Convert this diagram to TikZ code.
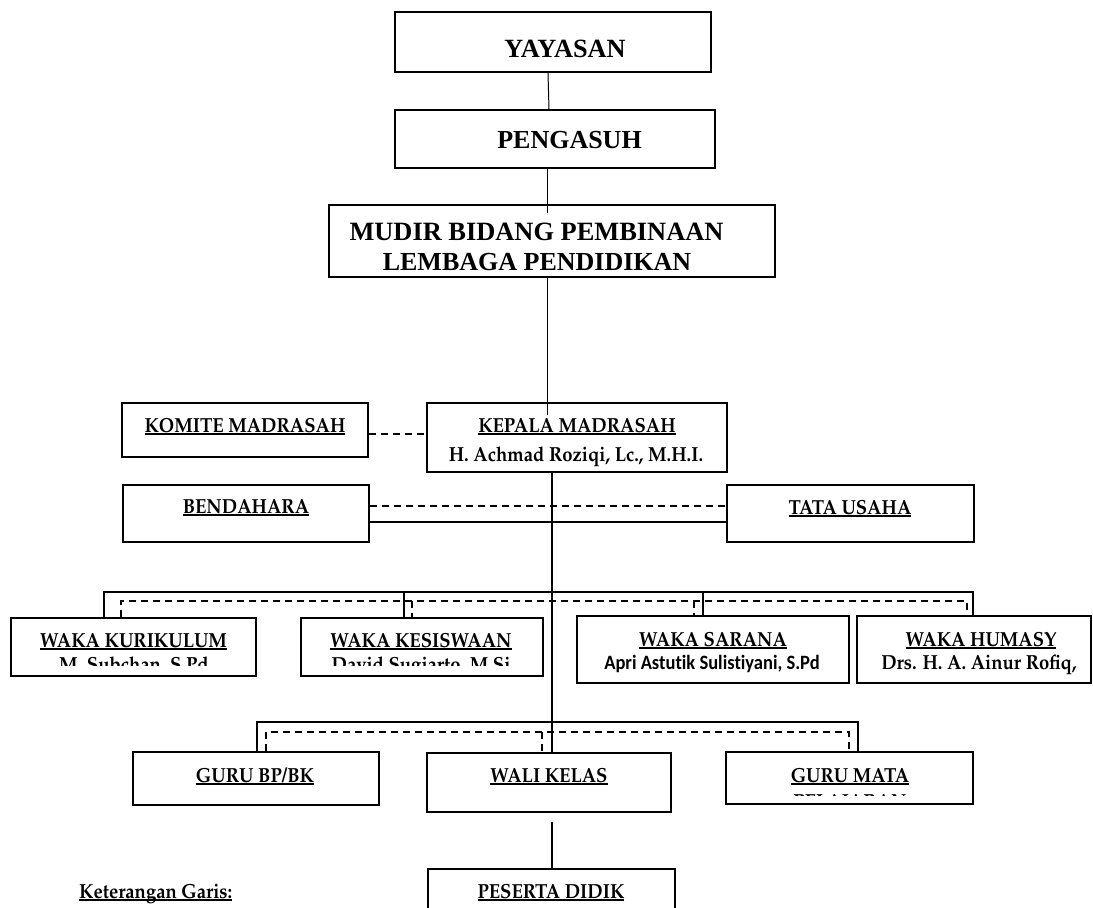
\documentclass[tikz,border=0pt]{standalone}
\usepackage{fontspec}
\usepackage[T1,TU]{fontenc}
\newfontfamily\timesfont{Liberation Serif}
\newfontfamily\carlitofont{Carlito}[Ligatures={NoCommon}]
% Palatino bold (Type 1) for the unit labels
\newcommand\palfont{\fontencoding{T1}\fontfamily{ppl}\fontseries{b}\fontshape{n}\fontsize{18.5}{22}\selectfont}
% slightly taller lettering, plain and underlined
\newcommand\tall[1]{\scalebox{1}[1.1]{#1}}
\newsavebox\ulbox
\newcommand\ulbl[1]{\sbox\ulbox{#1}\tall{\rlap{\rule[-2.4pt]{\wd\ulbox}{1.1pt}}\usebox\ulbox}}

\begin{document}
\begin{tikzpicture}[x=1pt,y=-1pt,
  box/.style={draw, rectangle, line width=1.8pt, fill=white, inner sep=0pt},
  lbl/.style={anchor=base, inner sep=0pt, font=\palfont},
  toplbl/.style={anchor=base, inner sep=0pt, font={\timesfont\bfseries\fontsize{26}{30}\selectfont}},
  sanslbl/.style={anchor=base, inner sep=0pt, font={\carlitofont\bfseries\fontsize{18.5}{22}\selectfont}},
  conn/.style={line width=1.6pt},
  thinconn/.style={line width=1pt},
  dashline/.style={line width=1.4pt, dash pattern=on 7pt off 5pt}]
\useasboundingbox (0,0) rectangle (1093,908);
\begin{scope}
\clip (0,0) rectangle (1093,908);

% ---- boxes ----
\node[box, minimum width=316pt, minimum height=60pt] (yay) at (553,42) {};
\node[box, minimum width=320pt, minimum height=58pt] (pen) at (555,139) {};
\node[box, minimum width=446pt, minimum height=72pt] (mud) at (552,241) {};
\node[box, minimum width=246pt, minimum height=54pt] (kom) at (245,430) {};
\node[box, minimum width=300pt, minimum height=69pt] (kep) at (577,437.5) {};
\node[box, minimum width=246pt, minimum height=57pt] (ben) at (246,513.5) {};
\node[box, minimum width=247pt, minimum height=57pt] (tat) at (850.5,513.5) {};
\node[box, minimum width=245pt, minimum height=58pt] (wk1) at (133.5,647) {};
\node[box, minimum width=242pt, minimum height=58pt] (wk2) at (422,647) {};
\node[box, minimum width=272pt, minimum height=67pt] (wk3) at (713,649.5) {};
\node[box, minimum width=234pt, minimum height=67pt] (wk4) at (974,649.5) {};
\node[box, minimum width=246pt, minimum height=53pt] (gbk) at (256,778.5) {};
\node[box, minimum width=244pt, minimum height=59pt] (wal) at (549,782.5) {};
\node[box, minimum width=247pt, minimum height=52pt] (gmp) at (849.5,778) {};
\node[box, minimum width=247pt, minimum height=61pt] (pes) at (551.5,899.5) {};

% ---- connector points ----
\coordinate (y0) at (548,0);
\coordinate (m0) at (547,213);
\coordinate (m1) at (547,415);
\coordinate (sx) at (552,0);
\coordinate (k1) at (0,434);
\coordinate (bt1) at (0,506);
\coordinate (bt2) at (0,522);
\coordinate (b1) at (104,592);
\coordinate (b2) at (404,592);
\coordinate (b3) at (703,592);
\coordinate (b4) at (973,592);
\coordinate (d1) at (121,601);
\coordinate (d2) at (412,601);
\coordinate (d3) at (694,601);
\coordinate (d4) at (967,601);
\coordinate (g1) at (257,722);
\coordinate (g2) at (858,722);
\coordinate (h1) at (266,732);
\coordinate (h2) at (542,732);
\coordinate (h3) at (849,732);
\coordinate (w1) at (552,822);

% ---- upper chain ----
\draw[thinconn] (yay.south -| y0) -- ([xshift=1pt]pen.north -| y0);
\draw[thinconn] (pen.south -| m0) -- (m0);
\draw[thinconn] (mud.south -| m1) -- (m1);

% ---- side units ----
\draw[dashline] (kom.east |- k1) -- (kep.west |- k1);
\draw[dashline] (ben.east |- bt1) -- (tat.west |- bt1);
\draw[conn] (ben.east |- bt2) -- (tat.west |- bt2);

% ---- spine ----
\draw[conn] (kep.south -| sx) -- (wal.north -| sx);

% ---- deputies ----
\draw[conn] (wk1.north -| b1) -- (b1) -- (b4) -- (wk4.north -| b4);
\draw[conn] (b2) -- (wk2.north -| b2);
\draw[conn] (b3) -- (wk3.north -| b3);
\draw[dashline] (wk1.north -| d1) -- (d1) -- (d4) -- (wk4.north -| d4);
\draw[dashline] (d2) -- (wk2.north -| d2);
\draw[dashline] (d3) -- (wk3.north -| d3);

% ---- teachers ----
\draw[conn] (gbk.north -| g1) -- (g1) -- (g2) -- (gmp.north -| g2);
\draw[dashline] (gbk.north -| h1) -- (h1) -- (h3) -- (gmp.north -| h3);
\draw[dashline] (h2) -- (wal.north -| h2);

% ---- students ----
\draw[conn] (w1) -- (pes.north -| w1);

% ---- texts ----
\node[toplbl, font={\timesfont\bfseries\fontsize{26.3}{30}\selectfont}] (tyay) at (565,57) {YAYASAN};
\node[toplbl] (tpen) at (569.5,148) {PENGASUH};
\node[toplbl, font={\timesfont\bfseries\fontsize{26.4}{30}\selectfont}] (tmud1) at (536.5,240) {MUDIR BIDANG PEMBINAAN};
\node[toplbl] (tmud2) at (537,270) {LEMBAGA PENDIDIKAN};

\node[lbl] (tkom) at (245,432) {\ulbl{KOMITE MADRASAH}};
\node[lbl] (tkep) at (577,432) {\ulbl{KEPALA MADRASAH}};
\node[lbl] (tkep2) at (576,461) {\tall{H. Achmad Roziqi, Lc., M.H.I.}};
\node[lbl] (tben) at (246,513) {\ulbl{BENDAHARA}};
\node[lbl] (ttat) at (850,514) {\ulbl{TATA USAHA}};

\node[lbl] (twk1) at (133.5,647) {\ulbl{WAKA KURIKULUM}};
\node[lbl] (twk2) at (421,647) {\ulbl{WAKA KESISWAAN}};
\node[lbl] (twk3) at (713,646) {\ulbl{WAKA SARANA}};
\node[sanslbl] (nwk3) at (712,669) {\tall{Apri Astutik Sulistiyani, S.Pd}};
\node[lbl] (twk4) at (981,646) {\ulbl{WAKA HUMASY}};
\node[lbl] (nwk4) at (979,669) {\tall{Drs. H. A. Ainur Rofiq,}};

% names cut off by the lower edge of their text boxes
\begin{scope}
  \clip (11,618) rectangle (256,665);
  \node[lbl] (nwk1) at (134,671) {\tall{M. Subchan, S.Pd}};
\end{scope}
\begin{scope}
  \clip (301,618) rectangle (543,665);
  \node[lbl] (nwk2) at (421,671) {\tall{David Sugiarto, M.Si}};
\end{scope}

\node[lbl] (tgbk) at (255,782) {\ulbl{GURU BP/BK}};
\node[lbl] (twal) at (549,782) {\ulbl{WALI KELAS}};
\node[lbl] (tgmp) at (850,782) {\ulbl{GURU MATA}};
\begin{scope}
  \clip (726,752) rectangle (973,795);
  \node[lbl] (tgmp2) at (850,808) {\tall{PELAJARAN}};
\end{scope}

\node[lbl] (tpes) at (551,898) {\ulbl{PESERTA DIDIK}};
\node[lbl, anchor=base west] (tket) at (79,898) {\ulbl{Keterangan Garis:}};
\end{scope}
\end{tikzpicture}
\end{document}
